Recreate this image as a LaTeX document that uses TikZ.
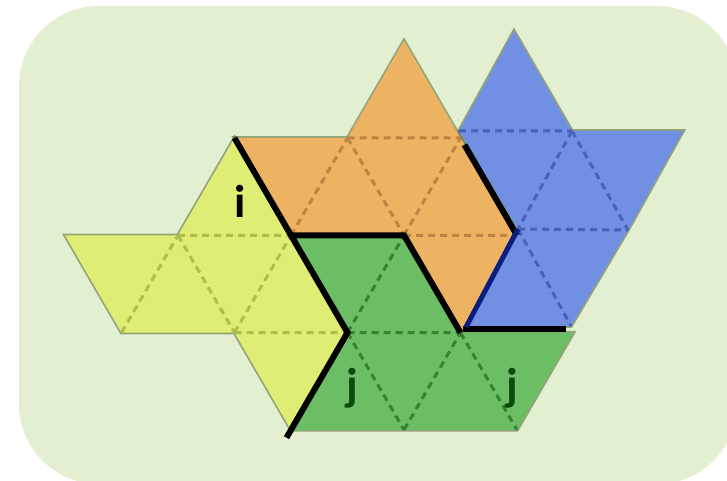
\documentclass[tikz,border=0pt]{standalone}
\usepackage{fontspec}
\setmainfont{Carlito}
\usetikzlibrary{calc}
\definecolor{bg}{RGB}{226,239,208}
\definecolor{yel}{RGB}{223,237,116}
\definecolor{ora}{RGB}{238,178,99}
\definecolor{blu}{RGB}{113,144,228}
\definecolor{gre}{RGB}{108,190,100}
\definecolor{yeld}{RGB}{172,190,76}
\definecolor{orad}{RGB}{192,132,66}
\definecolor{blud}{RGB}{72,96,190}
\definecolor{gred}{RGB}{50,132,50}
\definecolor{jcol}{RGB}{12,75,12}
\definecolor{navy}{RGB}{10,30,130}
\definecolor{halo}{RGB}{70,90,40}
\begin{document}
\begin{tikzpicture}[x=1pt,y=-1pt,
  piece/.style={preaction={draw=halo,draw opacity=0.5,line width=3.5pt,line join=miter}},
  gridline/.style={dash pattern=on 7pt off 5pt,line width=3pt},
  cut/.style={line width=6pt,black,line join=miter},
  lab/.style={font=\fontsize{46}{46}\selectfont\bfseries,inner sep=0pt}]
\useasboundingbox (0,0) rectangle (727,481);
\fill[bg,rounded corners=80pt] (19,6) rectangle (737,484);
% lattice points
\foreach \R/\r in {A/-1,B/0,C/1,D/2,E/3}{
  \foreach \u in {0,...,11}{
    \coordinate (\R\u) at ({65+56.5*\u},{138+97.3*\r});
  }
}
% blue piece points
\coordinate (b1) at (514,31);
\coordinate (b2) at (459,131);
\coordinate (b3) at (518,229);
\coordinate (b4) at (466,327);
\coordinate (b5) at (571,326);
\coordinate (b6) at (628,230);
\coordinate (b7) at (683,131);
\coordinate (b8) at (572,131);
% yellow
\path[piece,fill=yel] (B3)--(C4)--(D5)--(E4)--(D3)--(D1)--(C0)--(C2)--cycle;
\draw[gridline,yeld] (C2)--(C4) (D3)--(D5) (D1)--(C2) (C2)--(D3) (D3)--(C4);
% green
\path[piece,fill=gre] (C4)--(C6)--(D7)--(D9)--(E8)--(E4)--(D5)--cycle;
\draw[gridline,gred] (D5)--(C6) (D5)--(D7) (D5)--(E6) (E6)--(D7) (D7)--(E8);
% orange
\path[piece,fill=ora] (B3)--(B5)--(A6)--(B7)--(C8)--(D7)--(C6)--(C4)--cycle;
\draw[gridline,orad] (C4)--(B5) (B5)--(C6) (B5)--(B7) (C6)--(B7) (C6)--(C8);
% blue
\path[piece,fill=blu] (b1)--(b2)--(b3)--(b4)--(b5)--(b6)--(b7)--(b8)--cycle;
\draw[gridline,blud] (b2)--(b8) (b8)--(b3) (b8)--(b6) (b3)--(b6) (b3)--(b5);
% cut lines
\coordinate (k1) at (463,329);
\coordinate (k2) at (566,329);
\draw[cut] (B3)--(C4)--(D5)--($(E4)!-0.08!(D5)$);
\draw[cut] (C4)--(C6)--(D7);
\draw[cut] (k1)--(k2);
\draw[cut] ($(B7)!0.07!(C8)$)--(C8);
\draw[line width=5pt,navy] (b3)--(b4);
% labels
\node[lab,black] (li) at (240,201) {i};
\node[lab,jcol] (lj1) at (352,388) {j};
\node[lab,jcol] (lj2) at (512,388) {j};
\end{tikzpicture}
\end{document}
